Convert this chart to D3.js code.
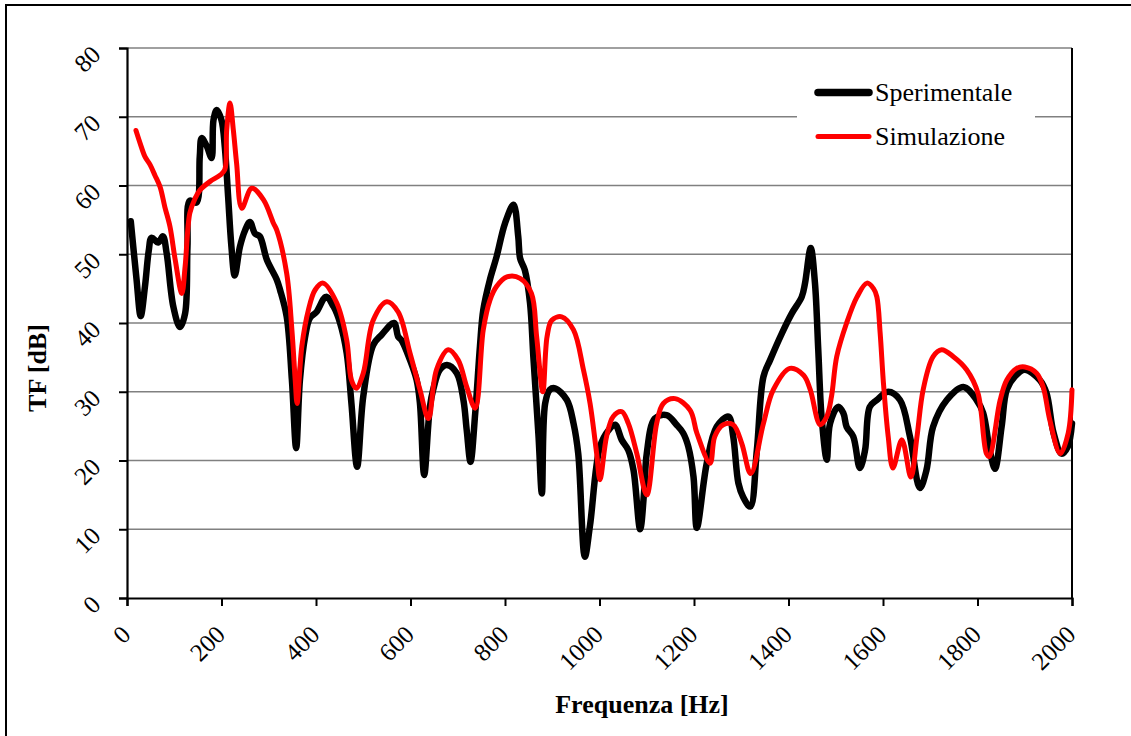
<!DOCTYPE html>
<html>
<head>
<meta charset="utf-8">
<script src="https://cdn.jsdelivr.net/npm/d3@7"></script>
<style>
  html, body { margin: 0; padding: 0; background: #fff; }
  svg { display: block; }
  text { font-family: "Liberation Serif", "Times New Roman", serif; fill: #000; }
</style>
</head>
<body>
<svg id="chart" width="1131" height="736"></svg>
<script>
// Frequency axis ticks and level axis ticks
const xTicks = [0, 200, 400, 600, 800, 1000, 1200, 1400, 1600, 1800, 2000];
const yTicks = [0, 10, 20, 30, 40, 50, 60, 70, 80];

// Measured transfer function (Sperimentale): frequency [Hz] and level [dB]
const expFreq = [8, 20, 29, 38, 46, 52, 66, 76, 84, 98, 112, 123, 128, 133, 147, 154, 158, 169, 179, 183, 190, 200, 207, 214, 221, 228, 239, 250, 260, 271, 281, 296, 317, 324, 338, 349, 358, 366, 377, 387, 401, 421, 437, 451, 465, 475, 487, 500, 521, 539, 565, 574, 581, 599, 613, 620, 629, 641, 648, 662, 677, 698, 712, 719, 727, 737, 747, 754, 768, 782, 800, 818, 828, 832, 842, 853, 860, 871, 878, 885, 895, 906, 931, 945, 955, 969, 980, 1001, 1019, 1033, 1047, 1061, 1072, 1086, 1095, 1100, 1117, 1142, 1163, 1177, 1188, 1199, 1206, 1227, 1248, 1273, 1283, 1294, 1304, 1319, 1333, 1347, 1361, 1386, 1407, 1428, 1435, 1447, 1456, 1463, 1470, 1481, 1488, 1505, 1516, 1523, 1537, 1551, 1562, 1572, 1587, 1611, 1636, 1657, 1678, 1692, 1706, 1735, 1770, 1798, 1812, 1826, 1837, 1851, 1862, 1879, 1900, 1932, 1946, 1961, 1978, 1991, 2000];
const expDb = [54.8, 46.5, 41, 45.3, 50.5, 52.4, 51.7, 52.6, 50.1, 42.4, 39.4, 41.4, 51.1, 57.8, 57.5, 64.2, 66.9, 65.7, 64, 69.5, 71, 69.5, 65.6, 58.4, 51.1, 46.9, 51.1, 53.5, 54.7, 53, 52.6, 49.2, 46.3, 44.8, 40.9, 31.7, 21.8, 31.7, 38, 40.7, 41.6, 43.8, 42.4, 40, 35.6, 28.3, 19.1, 29.3, 36.8, 38.3, 40, 38, 37.5, 34.6, 31.7, 28.3, 17.9, 27.8, 30.3, 33.2, 33.9, 32.7, 28.8, 24.4, 19.8, 26.9, 36.6, 41.9, 46.3, 49.6, 54.5, 57.2, 52.6, 49.4, 47.7, 42.9, 35.1, 23.5, 15.2, 28.3, 30.3, 30.5, 28.8, 25.4, 21, 6, 10.6, 22, 24.4, 25.2, 23, 21.5, 18.6, 10, 16, 21, 26.1, 26.6, 25.2, 24, 22, 17.6, 10.2, 19.6, 24.9, 26.4, 23.5, 16.7, 14.7, 13.3, 21.5, 32.2, 34.6, 38.5, 41.4, 43.8, 45.8, 50.9, 45.8, 36.1, 26.4, 20.1, 25.4, 27.8, 26.9, 24.9, 23.5, 18.9, 21.5, 27.8, 28.8, 30, 28.8, 23.5, 16, 18.6, 24.9, 28.8, 30.7, 28.8, 26.9, 21.5, 18.8, 24.9, 30.3, 32.2, 33.2, 31.7, 29.8, 24, 21, 22, 25.4];

// Simulated transfer function (Simulazione)
const simFreq = [19, 28, 38, 49, 59, 70, 80, 91, 102, 116, 123, 133, 144, 154, 176, 197, 207, 211, 218, 225, 232, 243, 264, 289, 310, 317, 338, 349, 356, 360, 370, 384, 398, 415, 444, 465, 475, 485, 500, 521, 550, 574, 599, 620, 638, 655, 680, 701, 719, 737, 754, 768, 782, 804, 832, 856, 867, 880, 889, 899, 920, 945, 966, 980, 994, 1001, 1015, 1029, 1047, 1061, 1079, 1100, 1121, 1135, 1160, 1192, 1206, 1234, 1244, 1262, 1283, 1301, 1320, 1347, 1368, 1403, 1432, 1446, 1467, 1481, 1491, 1502, 1523, 1545, 1566, 1580, 1587, 1594, 1601, 1611, 1621, 1640, 1659, 1672, 1685, 1706, 1724, 1749, 1777, 1801, 1819, 1825, 1848, 1862, 1883, 1900, 1925, 1939, 1953, 1975, 1992, 2000];
const simDb = [68, 66.1, 64.2, 63, 61.5, 59.8, 56.9, 54, 49.2, 44.3, 48.2, 56, 58.1, 59.3, 60.6, 61.5, 62.3, 68.1, 72, 68.1, 63.2, 56.7, 59.6, 57.9, 54.5, 53.5, 47.2, 39, 31.7, 28.3, 36.6, 41.9, 44.8, 45.8, 42.9, 37.5, 31.7, 30.5, 32.7, 40.4, 43.1, 41.6, 35.6, 30.3, 26.1, 33.2, 36.1, 34.6, 30.7, 27.6, 39, 43.3, 45.3, 46.7, 46.5, 44.3, 38, 30, 38, 40.4, 40.9, 39, 33.2, 28.3, 21, 17.2, 23.5, 26.4, 27.1, 25.4, 21, 15, 25.4, 28.3, 29, 27.3, 24, 19.6, 23.5, 25.2, 25.2, 22.5, 18.1, 25.4, 30.3, 33.4, 32.4, 30.3, 25.2, 26.4, 29.3, 35.1, 40, 43.8, 45.8, 45, 43.8, 38.5, 31.2, 23.5, 18.9, 23, 17.6, 23.5, 30.3, 35.1, 36.1, 35.1, 33.2, 29.8, 21, 20.6, 28.8, 31.7, 33.4, 33.6, 32.7, 30.7, 25.9, 21, 24, 30.3];

const seriesNames = ["Sperimentale", "Simulazione"];
const seriesColors = ["#000000", "#ff0000"];

const svg = d3.select("#chart");

// Outer chart frame
svg.append("rect")
  .attr("x", 6).attr("y", 5)
  .attr("width", 1140).attr("height", 745)
  .attr("fill", "none").attr("stroke", "#000").attr("stroke-width", 2);

const plot = { left: 127, top: 48, right: 1072, bottom: 598 };

const x = d3.scaleLinear().domain([0, 2000]).range([plot.left, plot.right]);
const y = d3.scaleLinear().domain([0, 80]).range([plot.bottom, plot.top]);

// Horizontal gridlines
svg.append("g")
  .selectAll("line")
  .data(yTicks.filter(d => d > 0))
  .join("line")
  .attr("x1", plot.left).attr("x2", plot.right)
  .attr("y1", d => y(d)).attr("y2", d => y(d))
  .attr("stroke", "#808080").attr("stroke-width", 1.5);

// Right border of the plot area
svg.append("line")
  .attr("x1", plot.right).attr("x2", plot.right)
  .attr("y1", plot.top).attr("y2", plot.bottom)
  .attr("stroke", "#000").attr("stroke-width", 2);

// Axes
const yAxis = svg.append("g")
  .attr("transform", `translate(${plot.left},0)`)
  .call(d3.axisLeft(y).tickValues(yTicks).tickSize(8).tickFormat(""));
const xAxis = svg.append("g")
  .attr("transform", `translate(0,${plot.bottom})`)
  .call(d3.axisBottom(x).tickValues(xTicks).tickSize(8).tickFormat(""));
[yAxis, xAxis].forEach(g => {
  g.select(".domain").attr("stroke", "#000").attr("stroke-width", 2.2);
  g.selectAll(".tick line").attr("stroke", "#000").attr("stroke-width", 2);
});

// Rotated tick labels
svg.append("g")
  .selectAll("text")
  .data(yTicks)
  .join("text")
  .attr("transform", d => `translate(96,${y(d) + 2}) rotate(-45)`)
  .attr("text-anchor", "end")
  .attr("dy", "0.35em")
  .attr("font-size", 25)
  .text(d => d);

svg.append("g")
  .selectAll("text")
  .data(xTicks)
  .join("text")
  .attr("transform", d => `translate(${x(d) - 1},630) rotate(-45)`)
  .attr("text-anchor", "end")
  .attr("dy", "0.35em")
  .attr("font-size", 25)
  .text(d => d);

// Axis titles
svg.append("text")
  .attr("x", 642).attr("y", 713)
  .attr("text-anchor", "middle")
  .attr("font-size", 26).attr("font-weight", "bold")
  .text("Frequenza [Hz]");

svg.append("text")
  .attr("transform", "translate(46,368) rotate(-90)")
  .attr("text-anchor", "middle")
  .attr("font-size", 26).attr("font-weight", "bold")
  .text("TF [dB]");

// Series lines
const line = d3.line()
  .x(d => x(d[0]))
  .y(d => y(d[1]))
  .curve(d3.curveCatmullRom.alpha(0.5));

const expData = expFreq.map((f, i) => [f, expDb[i]]);
const simData = simFreq.map((f, i) => [f, simDb[i]]);

svg.append("path")
  .datum(expData)
  .attr("d", line)
  .attr("fill", "none")
  .attr("stroke", seriesColors[0])
  .attr("stroke-width", 6.5)
  .attr("stroke-linejoin", "round")
  .attr("stroke-linecap", "round");

svg.append("path")
  .datum(simData)
  .attr("d", line)
  .attr("fill", "none")
  .attr("stroke", seriesColors[1])
  .attr("stroke-width", 5)
  .attr("stroke-linejoin", "round")
  .attr("stroke-linecap", "round");

// Legend
const legend = svg.append("g");
legend.append("rect")
  .attr("x", 797).attr("y", 64)
  .attr("width", 238).attr("height", 104)
  .attr("fill", "#fff");
const legendRows = [
  { name: seriesNames[0], color: seriesColors[0], width: 7.5, ly: 92.5, ty: 101 },
  { name: seriesNames[1], color: seriesColors[1], width: 5, ly: 136.5, ty: 145 }
];
legendRows.forEach(r => {
  legend.append("line")
    .attr("x1", 818).attr("x2", 869)
    .attr("y1", r.ly).attr("y2", r.ly)
    .attr("stroke", r.color).attr("stroke-width", r.width)
    .attr("stroke-linecap", "round");
  legend.append("text")
    .attr("x", 875).attr("y", r.ty)
    .attr("font-size", 26)
    .text(r.name);
});
</script>
</body>
</html>
